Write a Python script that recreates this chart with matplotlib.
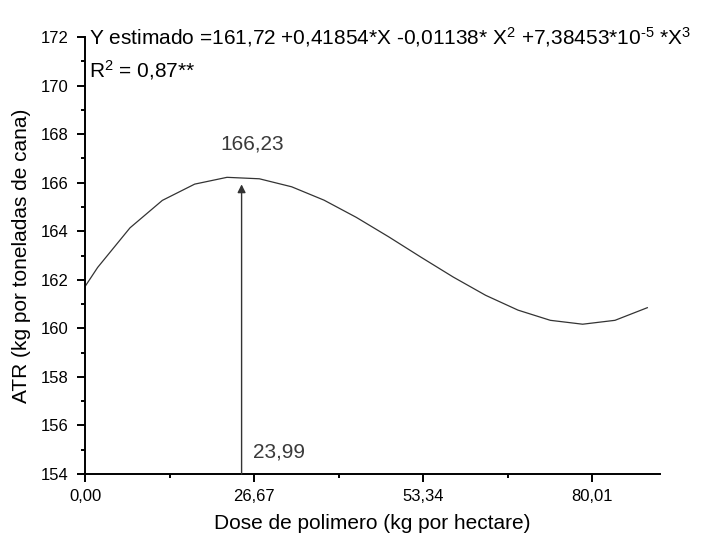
import matplotlib
matplotlib.use("Agg")
import matplotlib.pyplot as plt
from matplotlib.ticker import FixedLocator, MultipleLocator

plt.rcParams['font.family'] = ['Liberation Sans', 'DejaVu Sans']
plt.rcParams['mathtext.fontset'] = 'custom'
plt.rcParams['mathtext.rm'] = 'Liberation Sans'
plt.rcParams['mathtext.it'] = 'Liberation Sans'
plt.rcParams['mathtext.bf'] = 'Liberation Sans:bold'

# Fitted curve vertices
dose = [0, 2.0, 7.1, 12.2, 17.3, 22.4, 27.5, 32.6, 37.7, 42.8, 47.9,
        53.0, 58.1, 63.2, 68.3, 73.4, 78.5, 83.6, 88.7]
atr = [161.72, 162.51, 164.14, 165.27, 165.94, 166.22, 166.16, 165.83,
       165.28, 164.57, 163.77, 162.93, 162.11, 161.36, 160.75, 160.33,
       160.17, 160.33, 160.85]

x_ticks = [0.00, 26.67, 53.34, 80.01]
x_tick_labels = ["0,00", "26,67", "53,34", "80,01"]
y_ticks = [154, 156, 158, 160, 162, 164, 166, 168, 170, 172]

max_dose = 24.7          # arrow position (labelled 23,99)
max_label_x = "23,99"
max_value_label = "166,23"
arrow_top = 165.93

equation = (r"Y estimado =161,72 +0,41854*X -0,01138* X$^{2}$ "
            r"+7,38453*10$^{\text{-5}}$ *X$^{3}$")
r2_text = r"R$^{2}$ = 0,87**"

fig = plt.figure(figsize=(7.06, 5.41), dpi=100)
ax = fig.add_axes([85/706, 67/541, (660-85)/706, (474-37)/541])

ax.plot(dose, atr, color='#333333', lw=0.9)

ax.set_xlim(0, 90.7)
ax.set_ylim(154, 172)

ax.xaxis.set_major_locator(FixedLocator(x_ticks))
ax.set_xticklabels(x_tick_labels)
ax.xaxis.set_minor_locator(FixedLocator([13.335, 40.005, 66.675]))
ax.yaxis.set_major_locator(FixedLocator(y_ticks))
ax.yaxis.set_minor_locator(MultipleLocator(1))

for s in ['top', 'right']:
    ax.spines[s].set_visible(False)
for s in ['left', 'bottom']:
    ax.spines[s].set_linewidth(1.4)

ax.tick_params(which='major', direction='out', length=6, width=1.4, labelsize=12)
ax.tick_params(axis='y', which='major', pad=6)
ax.tick_params(axis='x', which='major', pad=5)
ax.tick_params(which='minor', direction='out', length=3, width=1.4)

ax.set_xlabel("Dose de polimero (kg por hectare)", fontsize=15, labelpad=7)
ax.set_ylabel("ATR (kg por toneladas de cana)", fontsize=15, labelpad=7)

ax.annotate("", xy=(max_dose, arrow_top), xytext=(max_dose, 154),
            arrowprops=dict(arrowstyle='-|>', color='#333333', lw=1.0,
                            mutation_scale=12, shrinkA=0, shrinkB=0))
ax.text(26.3, 167.61, max_value_label, fontsize=15, color='#3a3a3a',
        ha='center', va='center')
ax.text(26.45, 154.92, max_label_x, fontsize=15, color='#3a3a3a',
        ha='left', va='center')

fig.text(89/706, 1 - 37/541, equation, fontsize=15, ha='left', va='center')
fig.text(89/706, 1 - 70/541, r2_text, fontsize=15, ha='left', va='center')

fig.savefig("out.png", dpi=100)
